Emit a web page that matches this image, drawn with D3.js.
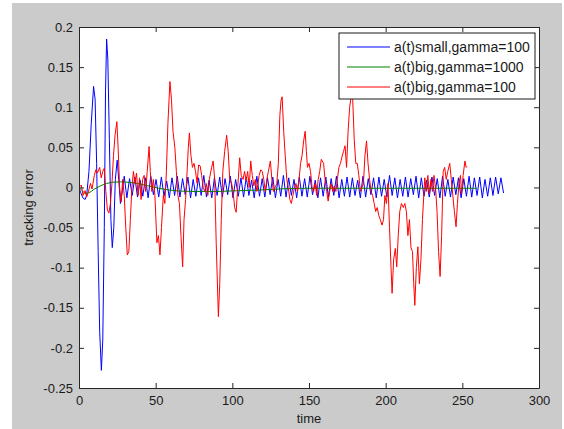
<!DOCTYPE html>
<html>
<head>
<meta charset="utf-8">
<script src="https://cdn.jsdelivr.net/npm/d3@7"></script>
<style>
  html, body { margin: 0; padding: 0; background: #fff; }
  svg { display: block; font-family: "Liberation Sans", Arial, sans-serif; }
  .tick text { fill: #1a1a1a; font-size: 13px; }
  .tick line, .domain { stroke: #262626; }
</style>
</head>
<body>
<div id="chart"></div>
<script>
// Tracking error over time, three controller settings (MATLAB-style figure)

const xTicks = [0, 50, 100, 150, 200, 250, 300];
const yTicks = [-0.25, -0.2, -0.15, -0.1, -0.05, 0, 0.05, 0.1, 0.15, 0.2];
const seriesNames = ["a(t)small,gamma=100", "a(t)big,gamma=1000", "a(t)big,gamma=100"];
const seriesColors = ["#0000ff", "#008000", "#ff0000"];

// blue: start transient as [t, value]
const blueStart = [
  [0, 0], [1, -0.006], [2.5, -0.013], [4, -0.015], [5, -0.01], [6.5, 0.02], [8, 0.08],
  [9.5, 0.126], [10.5, 0.11], [11.5, 0.03], [12.5, -0.08], [13.5, -0.18], [14.6, -0.228],
  [15.5, -0.19], [16.5, -0.05], [17.3, 0.12], [18, 0.185], [18.8, 0.16], [19.8, 0.06],
  [20.8, -0.04], [21.7, -0.075], [22.7, -0.05], [23.7, 0.01], [24.9, 0.034], [25.9, 0.01],
  [27, -0.02], [28.3, -0.004]
];
// blue: steady oscillation, one value per half period (every 1.73 from t = 29.5)
const blueT0 = 29.5;
const blueDt = 1.73;
const blueSteady = [
  0.014, -0.013, 0.011, -0.010, 0.013, -0.012, 0.009, -0.011, 0.012, -0.013, 0.014, -0.009, 0.010, -0.012, 0.013, -0.011, 0.008, -0.013, 0.012, -0.010,
  0.014, -0.012, 0.011, -0.009, 0.013, -0.013, 0.010, -0.011, 0.012, -0.010, 0.015, -0.012, 0.009, -0.013, 0.012, -0.010, 0.013, -0.012, 0.011, -0.009,
  0.014, -0.013, 0.010, -0.011, 0.012, -0.012, 0.013, -0.010, 0.009, -0.013, 0.014, -0.011, 0.011, -0.012, 0.012, -0.009, 0.013, -0.013, 0.010, -0.011,
  0.015, -0.012, 0.012, -0.010, 0.010, -0.013, 0.013, -0.011, 0.011, -0.012, 0.014, -0.009, 0.009, -0.013, 0.012, -0.011, 0.013, -0.012, 0.011, -0.010,
  0.014, -0.013, 0.010, -0.011, 0.013, -0.012, 0.012, -0.010, 0.009, -0.013, 0.014, -0.012, 0.011, -0.009, 0.012, -0.013, 0.013, -0.011, 0.010, -0.012,
  0.015, -0.010, 0.012, -0.013, 0.010, -0.011, 0.013, -0.012, 0.011, -0.009, 0.014, -0.013, 0.012, -0.011, 0.009, -0.012, 0.013, -0.010, 0.011, -0.013,
  0.014, -0.011, 0.010, -0.012, 0.013, -0.009, 0.012, -0.013, 0.011, -0.011, 0.014, -0.012, 0.012, -0.010, 0.013, -0.013, 0.010, -0.011, 0.012, -0.010,
  0.013, -0.008, 0.012, -0.007
];

const greenData = [
  [0, 0], [2, -0.004], [4, -0.0075], [6, -0.007], [8, -0.005], [10, -0.002], [14, 0.002],
  [18, 0.005], [22, 0.0065], [27, 0.007], [32, 0.0065], [38, 0.005], [45, 0.002], [52, -0.001],
  [58, -0.003], [65, -0.0045], [75, -0.005], [90, -0.005], [105, -0.004], [120, -0.003],
  [135, -0.0015], [150, -0.001], [180, -0.001], [220, -0.001], [259.5, -0.001]
];

const redData = [
  [0, 0], [1.5, 0.003], [2.6, -0.01], [4, -0.004], [5, -0.012], [6, -0.006], [7.5, 0.005], [8.5, -0.002],
  [10, 0.015], [11, 0.022], [12, 0.018], [13.5, 0.025], [14.5, 0.012], [15.5, 0.02], [16.5, 0.024],
  [17.5, -0.005], [18.5, -0.028], [19.5, -0.032], [20.5, -0.02], [21.5, 0.005], [22.5, 0.04],
  [23.5, 0.065], [24.7, 0.082], [25.5, 0.05], [26.5, 0.0], [27.5, -0.018], [28.5, 0.01], [29.5, -0.01],
  [30.5, -0.05], [31.5, -0.084], [32.5, -0.08], [33.5, -0.04], [34.5, 0.0], [35.5, 0.02], [36.5, 0.005],
  [37.5, 0.018], [38.5, -0.01], [39.5, 0.012], [40.5, -0.015], [41.5, 0.01], [42.5, 0.015], [43.5, -0.005],
  [44.5, 0.02], [45.7, 0.051], [46.5, 0.02], [47.5, -0.005], [48.5, 0.01], [49.5, -0.01], [50.8, -0.069],
  [51.8, -0.06], [52.8, -0.084], [53.8, -0.05], [55, -0.01], [56, -0.02], [57, 0.02], [58, 0.08],
  [59.3, 0.132], [60.3, 0.11], [61.3, 0.07], [62.5, 0.05], [63.5, 0.02], [64.5, -0.01], [65.5, -0.02],
  [66.5, -0.06], [67.6, -0.099], [68.5, -0.04], [69.5, -0.015], [70.5, 0.02], [71.3, 0.05], [72, 0.068],
  [73, 0.04], [74, 0.025], [75, 0.03], [76, 0.02], [77, 0.005], [78, 0.028], [79, 0.027], [80, 0.015],
  [81, 0.0], [82, -0.005], [83, 0.005], [84, -0.01], [85, 0.01], [86.5, 0.025], [87.5, 0.033], [88.5, 0.01],
  [89.5, -0.07], [90.9, -0.161], [91.8, -0.12], [92.8, -0.04], [93.8, 0.02], [95, 0.045], [96.3, 0.065],
  [97.3, 0.045], [98.3, 0.01], [99.5, 0.005], [100.5, -0.005], [101.5, -0.025], [102.5, -0.031],
  [103.5, 0.0], [104.8, 0.037], [105.8, 0.015], [107, 0.01], [108, 0.02], [109, 0.008], [110, 0.02],
  [111, 0.0], [112, 0.033], [113, 0.015], [114, 0.002], [115, 0.01], [116, -0.005], [117.5, 0.015],
  [118.5, 0.022], [119.5, 0.02], [120.5, 0.01], [121.5, -0.005], [122.5, 0.01], [123.5, 0.02],
  [124.8, 0.033], [125.8, 0.01], [126.8, -0.005], [128, 0.0], [129, 0.005], [130, 0.03], [131, 0.09],
  [131.8, 0.109], [132.5, 0.113], [133.5, 0.07], [134.5, 0.04], [135.5, 0.01], [136.5, 0.0],
  [137.5, -0.015], [138.5, -0.02], [139.5, -0.01], [140.5, 0.0], [141.5, 0.005], [142.5, -0.005],
  [143.5, 0.01], [144.5, 0.03], [145.5, 0.04], [146.5, 0.058], [147.5, 0.07], [148.3, 0.045],
  [149, 0.025], [150, 0.03], [151, 0.02], [152, 0.0], [153, -0.005], [154, 0.005], [155, -0.01],
  [156, 0.01], [157, 0.02], [158, 0.035], [159.5, 0.03], [160.5, 0.01], [161.5, -0.005], [162.5, -0.017],
  [163.5, -0.005], [164.5, 0.005], [165.5, -0.005], [166.5, 0.002], [167.5, -0.005], [168.5, 0.01],
  [169.5, 0.025], [170.5, 0.03], [171.5, 0.038], [172.5, 0.045], [173.5, 0.052], [174.5, 0.025],
  [175.5, 0.07], [176.5, 0.1], [177.5, 0.113], [178.5, 0.11], [179.5, 0.06], [180.5, 0.03], [181.5, 0.03],
  [182.5, 0.015], [183.5, -0.005], [184.5, 0.0], [185.5, 0.005], [186.5, 0.04], [187.5, 0.058],
  [188.5, 0.03], [189.5, 0.01], [190.5, -0.005], [191.5, -0.01], [192.5, -0.02], [193.5, -0.03],
  [194.5, -0.025], [195.5, -0.035], [196.5, -0.04], [197.6, -0.047], [198.6, -0.04], [199.5, -0.01],
  [200.5, -0.02], [201.5, 0.005], [202.5, -0.05], [203.5, -0.1], [204.2, -0.132], [205.2, -0.09],
  [206.3, -0.076], [207.2, -0.099], [208.2, -0.06], [209.2, -0.03], [210.3, -0.02], [211.5, -0.025],
  [212.5, -0.02], [213.5, -0.03], [214.5, -0.06], [215.5, -0.04], [216.5, -0.075], [217.5, -0.08],
  [218.3, -0.12], [219, -0.147], [220, -0.1], [221, -0.074], [222, -0.12], [223, -0.09], [224, -0.04],
  [225.5, 0.012], [226.5, -0.005], [227.5, 0.015], [228.5, -0.008], [229.5, 0.01], [230.5, -0.005],
  [231.5, 0.015], [232.5, 0.0], [233.5, -0.03], [234.5, -0.08], [235.5, -0.111], [236.5, -0.06],
  [237.5, 0.02], [238.5, 0.025], [239.5, 0.01], [240.5, 0.02], [241.8, 0.03], [242.8, 0.01],
  [243.8, -0.01], [244.8, -0.03], [245.9, -0.049], [246.8, -0.02], [247.8, 0.005], [248.8, 0.015],
  [249.5, -0.008], [250.5, 0.015], [251.7, 0.033], [252.5, 0.025], [253, 0.026]
];

const W = 564, H = 429;
const plot = { left: 79, right: 539, top: 27, bottom: 388 };

const svg = d3.select("#chart").append("svg")
  .attr("width", W)
  .attr("height", H);

// figure background (grey MATLAB window)
svg.append("rect").attr("width", W).attr("height", H).attr("fill", "#fff");
svg.append("rect")
  .attr("x", 12).attr("y", 3)
  .attr("width", 550).attr("height", H - 3)
  .attr("fill", "#cbcbcb");
svg.append("rect")
  .attr("x", plot.left).attr("y", plot.top)
  .attr("width", plot.right - plot.left).attr("height", plot.bottom - plot.top)
  .attr("fill", "#fff");

const x = d3.scaleLinear().domain([0, 300]).range([plot.left, plot.right]);
const y = d3.scaleLinear().domain([-0.25, 0.2]).range([plot.bottom, plot.top]);

const fmt = d => String(+d.toFixed(2));

const blueData = blueStart.concat(blueSteady.map((v, i) => [blueT0 + i * blueDt, v]));
const allSeries = [blueData, greenData, redData];

const clip = svg.append("clipPath").attr("id", "plot-clip")
  .append("rect")
  .attr("x", plot.left).attr("y", plot.top)
  .attr("width", plot.right - plot.left).attr("height", plot.bottom - plot.top);

const line = d3.line().x(d => x(d[0])).y(d => y(d[1]));

const linesG = svg.append("g").attr("clip-path", "url(#plot-clip)");
allSeries.forEach((s, i) => {
  linesG.append("path")
    .datum(s)
    .attr("d", line)
    .attr("fill", "none")
    .attr("stroke", seriesColors[i])
    .attr("stroke-width", 1)
    .attr("stroke-linejoin", "round");
});

// axes: ticks point inward, box on all four sides
svg.append("g")
  .attr("transform", `translate(0,${plot.bottom})`)
  .call(d3.axisBottom(x).tickValues(xTicks).tickFormat(fmt).tickSizeInner(-5).tickSizeOuter(0).tickPadding(8));
svg.append("g")
  .attr("transform", `translate(0,${plot.top})`)
  .call(d3.axisTop(x).tickValues(xTicks).tickFormat("").tickSizeInner(-5).tickSizeOuter(0));
svg.append("g")
  .attr("transform", `translate(${plot.left},0)`)
  .call(d3.axisLeft(y).tickValues(yTicks).tickFormat(fmt).tickSizeInner(-5).tickSizeOuter(0).tickPadding(6));
svg.append("g")
  .attr("transform", `translate(${plot.right},0)`)
  .call(d3.axisRight(y).tickValues(yTicks).tickFormat("").tickSizeInner(-5).tickSizeOuter(0));

svg.selectAll(".tick text").attr("font-family", null);
svg.selectAll("g.tick text").style("font-family", '"Liberation Sans", Arial, sans-serif');

// axis titles
svg.append("text")
  .attr("x", (plot.left + plot.right) / 2)
  .attr("y", 423)
  .attr("text-anchor", "middle")
  .attr("font-size", 13)
  .attr("fill", "#1a1a1a")
  .text("time");
svg.append("text")
  .attr("transform", `translate(33,${(plot.top + plot.bottom) / 2}) rotate(-90)`)
  .attr("text-anchor", "middle")
  .attr("font-size", 13)
  .attr("fill", "#1a1a1a")
  .text("tracking error");

// legend
const lg = svg.append("g").attr("transform", "translate(339,33)");
lg.append("rect")
  .attr("width", 196).attr("height", 66)
  .attr("fill", "#fff")
  .attr("stroke", "#1a1a1a");
seriesNames.forEach((name, i) => {
  const cy = 14 + i * 20;
  lg.append("line")
    .attr("x1", 8).attr("x2", 51)
    .attr("y1", cy).attr("y2", cy)
    .attr("stroke", seriesColors[i]);
  lg.append("text")
    .attr("x", 55).attr("y", cy + 5)
    .attr("font-size", 14)
    .attr("fill", "#1a1a1a")
    .text(name);
});
</script>
</body>
</html>
